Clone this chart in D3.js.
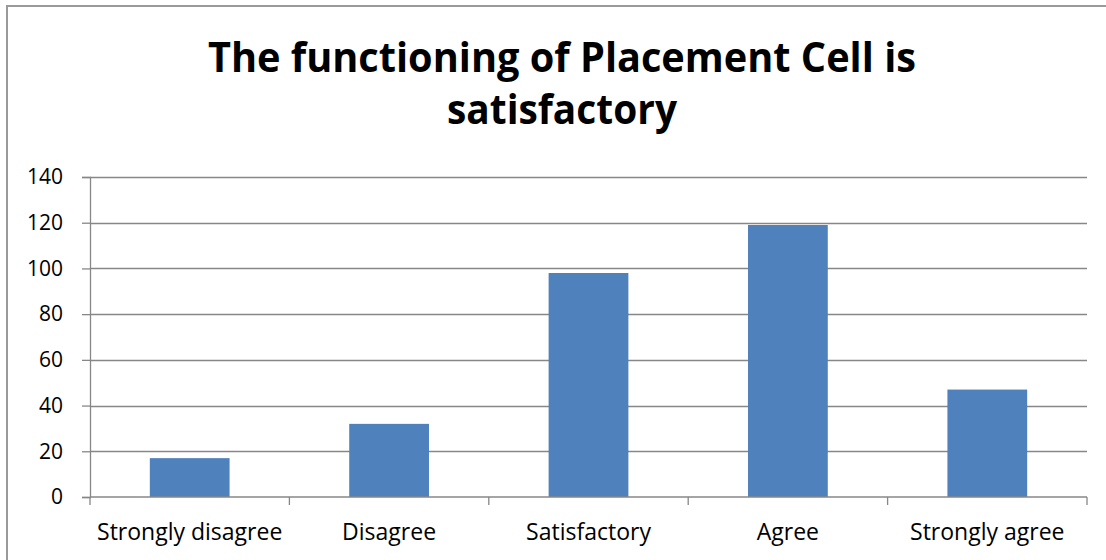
<!DOCTYPE html>
<html>
<head>
<meta charset="utf-8">
<script src="https://cdn.jsdelivr.net/npm/d3@7"></script>
<style>
  body { margin: 0; background: #fff; }
  svg { display: block; }
</style>
</head>
<body>
<div id="chart"></div>
<script>
// data
var categories = ["Strongly disagree", "Disagree", "Satisfactory", "Agree", "Strongly agree"];
var values = [17, 32, 98, 119, 47];
var yTicks = [0, 20, 40, 60, 80, 100, 120, 140];
var titleLines = ["The functioning of Placement Cell is", "satisfactory"];

var W = 1106, H = 560;
var margin = {left: 90, right: 19, top: 177, bottom: 63};

var svg = d3.select("#chart").append("svg").attr("width", W).attr("height", H);

// outer chart frame (right and bottom edges run off the picture)
svg.append("rect").attr("x", 7).attr("y", 6).attr("width", W + 10).attr("height", H + 10)
    .attr("fill", "#fff").attr("stroke", "#9a9a9a").attr("stroke-width", 2);

var x = d3.scaleBand().domain(categories).range([margin.left, W - margin.right])
    .paddingInner(0.6).paddingOuter(0.3);
var y = d3.scaleLinear().domain([0, 140]).range([H - margin.bottom, margin.top]);

// gridlines
svg.append("g").selectAll("line").data(yTicks.filter(function(d){ return d > 0; }))
    .enter().append("line")
    .attr("x1", margin.left).attr("x2", W - margin.right)
    .attr("y1", function(d){ return Math.round(y(d)) + 0.5; })
    .attr("y2", function(d){ return Math.round(y(d)) + 0.5; })
    .attr("stroke", "#878787").attr("stroke-width", 1.3);

// bars
svg.append("g").selectAll("rect").data(values).enter().append("rect")
    .attr("x", function(d, i){ return x(categories[i]); })
    .attr("width", x.bandwidth())
    .attr("y", function(d){ return y(d); })
    .attr("height", function(d){ return y(0) - y(d); })
    .attr("fill", "#4f81bd");

// y axis
var yAxis = svg.append("g").attr("transform", "translate(" + margin.left + ",0)")
    .call(d3.axisLeft(y).tickValues(yTicks).tickSize(8).tickPadding(19));
yAxis.select(".domain").attr("stroke", "#878787").attr("stroke-width", 1.3);
yAxis.selectAll(".tick line").attr("stroke", "#878787").attr("stroke-width", 1.3);
yAxis.selectAll("text").style("font-family", "'Open Sans', sans-serif")
    .style("font-size", "21px").attr("fill", "#000");

// x axis, ticks sit between the categories
var step = (W - margin.right - margin.left) / categories.length;
var xg = svg.append("g");
xg.append("line").attr("x1", margin.left).attr("x2", W - margin.right)
    .attr("y1", y(0)).attr("y2", y(0)).attr("stroke", "#878787").attr("stroke-width", 1.3);
xg.selectAll("line.tk").data(d3.range(categories.length + 1)).enter().append("line")
    .attr("class", "tk")
    .attr("x1", function(d){ return margin.left + d * step; })
    .attr("x2", function(d){ return margin.left + d * step; })
    .attr("y1", y(0)).attr("y2", y(0) + 8)
    .attr("stroke", "#878787").attr("stroke-width", 1.3);
xg.selectAll("text").data(categories).enter().append("text")
    .attr("x", function(d){ return x(d) + x.bandwidth() / 2; })
    .attr("y", y(0) + 43)
    .attr("text-anchor", "middle")
    .style("font-family", "'Open Sans', sans-serif").style("font-size", "23px")
    .text(function(d){ return d; });

// title
svg.append("g").selectAll("text").data(titleLines).enter().append("text")
    .attr("x", 562).attr("y", function(d, i){ return 72 + i * 52; })
    .attr("text-anchor", "middle")
    .style("font-family", "'Open Sans', sans-serif").style("font-weight", "bold")
    .style("font-size", "42px")
    .attr("textLength", function(d, i){ return i == 0 ? 708 : 230; })
    .attr("lengthAdjust", "spacingAndGlyphs")
    .text(function(d){ return d; });
</script>
</body>
</html>
